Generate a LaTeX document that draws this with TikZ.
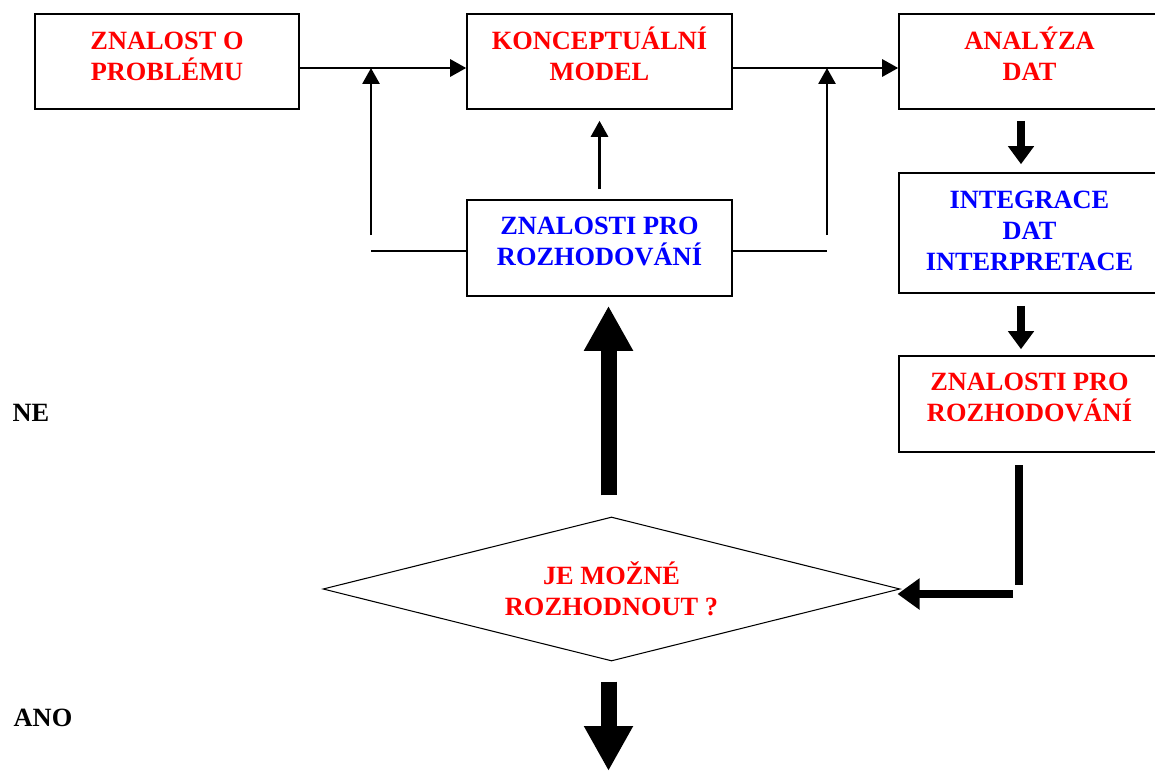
\documentclass[tikz,border=0pt]{standalone}
\usepackage{fontspec}
\setmainfont{Liberation Serif}
\usetikzlibrary{arrows.meta,shapes.geometric}
\begin{document}
\begin{tikzpicture}[every node/.style={font=\fontsize{15}{17.5}\selectfont\bfseries,align=center},
  box/.style={draw,line width=0.9pt,inner sep=2pt,text depth=0.32cm},
  thin/.style={line width=1pt},
  arr/.style={line width=1.6pt,-{Triangle[width=0.34cm,length=0.32cm]}},
  thk/.style={line width=0.15cm,-{Triangle[width=0.5cm,length=0.36cm]}},
  fat/.style={line width=0.32cm,-{Triangle[width=0.92cm,length=0.9cm]}}]
\useasboundingbox (0,0) rectangle (23.1,-15.42);
% boxes
\node[box,text=red,text depth=0.22cm,minimum width=5.28cm,minimum height=1.9cm] (pr) at (3.34,-1.23) {ZNALOST O\\PROBLÉMU};
\node[box,text=red,minimum width=5.3cm,minimum height=1.9cm] (km) at (11.99,-1.23) {KONCEPTUÁLNÍ\\MODEL};
\node[box,text=red,minimum width=5.22cm,minimum height=1.9cm] (an) at (20.59,-1.23) {ANALÝZA\\DAT};
\node[box,minimum width=5.22cm,minimum height=2.4cm] (ig) at (20.59,-4.66) {};
\node[text=blue] (igt) at (20.59,-4.62) {INTEGRACE\\DAT\\INTERPRETACE};
\node[box,text=red,text depth=0.26cm,minimum width=5.22cm,minimum height=1.92cm] (zr) at (20.59,-8.08) {ZNALOSTI PRO\\ROZHODOVÁNÍ};
\node[box,text=blue,text depth=0.26cm,minimum width=5.3cm,minimum height=1.92cm] (zb) at (11.99,-4.96) {ZNALOSTI PRO\\ROZHODOVÁNÍ};
\node[diamond,draw,line width=0.6pt,text=red,inner sep=0pt,aspect=4,minimum width=11.54cm,minimum height=2.88cm] (dm) at (12.23,-11.78) {JE MOŽNÉ\\ROZHODNOUT ?};
\node (ne) at (0.62,-8.26) {NE}; \node (ano) at (0.86,-14.36) {ANO};
% joints
\coordinate (j1) at (7.42,-4.70); \coordinate (j1b) at (7.42,-5.02); \coordinate (j2) at (16.54,-4.70); \coordinate (j2b) at (16.54,-5.02);
\coordinate (c1) at (20.38,-9.30); \coordinate (c2) at (20.38,-11.70); \coordinate (c3) at (20.26,-11.88); \coordinate (out) at (12.17,-15.42);
% thin arrows
\draw[arr] ([yshift=-0.13cm]pr.east) -- ([yshift=-0.13cm]km.west);
\draw[arr] ([yshift=-0.13cm]km.east) -- ([yshift=-0.13cm]an.west);
\draw[arr] (j1) -- ([yshift=-0.13cm]j1 |- pr.east);
\draw[arr] (j2) -- ([yshift=-0.13cm]j2 |- km.east);
\draw[thin] (j1b) -- ([yshift=-0.06cm]zb.west); \draw[thin] ([yshift=-0.06cm]zb.east) -- (j2b);
\draw[arr,shorten <=0.2cm,shorten >=0.22cm] (zb.north) -- (zb.north |- km.south);
% thick arrows
\draw[thk,shorten <=0.22cm,shorten >=0.16cm] ([xshift=-0.17cm]an.south) -- ([xshift=-0.17cm]ig.north);
\draw[thk,shorten <=0.24cm,shorten >=0.12cm] ([xshift=-0.17cm]ig.south) -- ([xshift=-0.17cm]zr.north);
\draw[fat,shorten <=0.42cm,shorten >=0.18cm] ([xshift=-0.06cm]dm.north) -- ([xshift=-0.06cm]dm.north |- zb.south);
\draw[fat,shorten <=0.4cm] ([xshift=-0.06cm]dm.south) -- (out);
\draw[line width=0.16cm] (c1) -- (c2);
\draw[line width=0.16cm,-{Triangle[width=0.6cm,length=0.44cm]}] (c3) -- ([xshift=-0.06cm,yshift=-0.1cm]dm.east);
\end{tikzpicture}
\end{document}
